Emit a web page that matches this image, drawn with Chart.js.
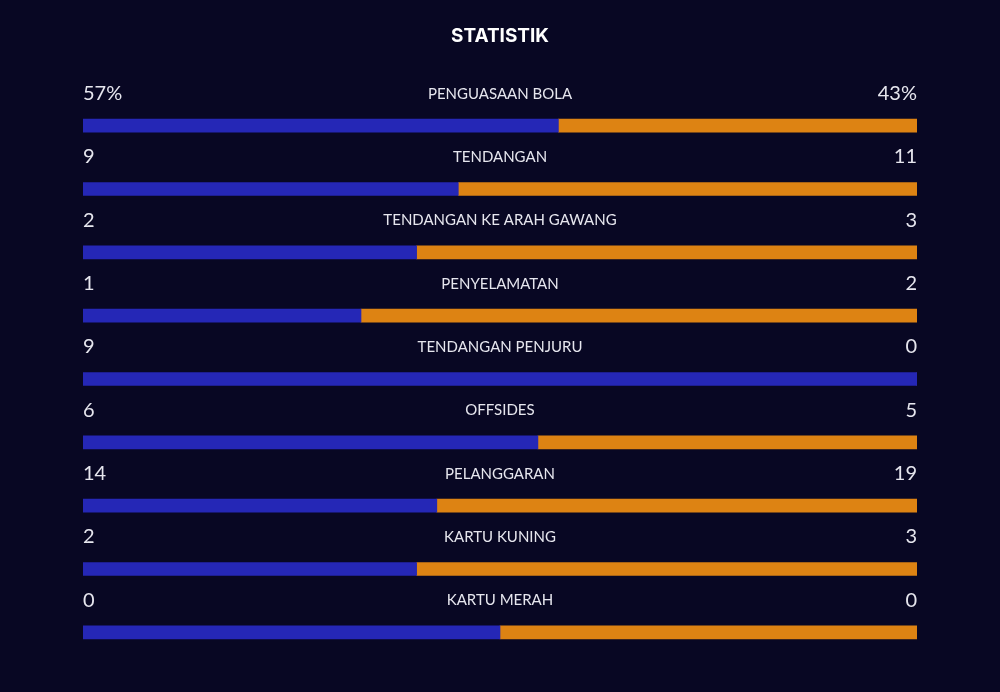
<!DOCTYPE html>
<html lang="id">
<head>
<meta charset="UTF-8">
<title>Statistik</title>
<script src="https://cdn.jsdelivr.net/npm/chart.js"></script>
<style>
  html, body { margin: 0; padding: 0; background: #080723; }
  #wrap { width: 1000px; height: 692px; }
</style>
</head>
<body>
<div id="wrap"><canvas id="statsChart"></canvas></div>
<script>
// match stats: home (blue) vs away (orange)
const categories = ['PENGUASAAN BOLA', 'TENDANGAN', 'TENDANGAN KE ARAH GAWANG', 'PENYELAMATAN',
  'TENDANGAN PENJURU', 'OFFSIDES', 'PELANGGARAN', 'KARTU KUNING', 'KARTU MERAH'];
const homeValues = [57, 9, 2, 1, 9, 6, 14, 2, 0];
const awayValues = [43, 11, 3, 2, 0, 5, 19, 3, 0];
const valueSuffix = ['%', '', '', '', '', '', '', '', ''];

const BLUE = '#2527b6';
const ORANGE = '#dd8313';

// share of the bar for each side (0 vs 0 splits evenly)
const homeShare = homeValues.map((h, i) => {
  const t = h + awayValues[i];
  return t === 0 ? 50 : h / t * 100;
});
const awayShare = homeShare.map(s => 100 - s);

const textPlugin = {
  id: 'statText',
  afterDatasetsDraw(chart) {
    const { ctx, chartArea, scales } = chart;
    ctx.save();
    ctx.fillStyle = '#ffffff';
    ctx.font = 'bold 19px Inter, "Open Sans", sans-serif';
    ctx.textAlign = 'center';
    ctx.textBaseline = 'middle';
    ctx.fillText('STATISTIK', chart.width / 2, 36);

    categories.forEach((cat, i) => {
      const y = scales.y.getPixelForValue(i) - 32;
      ctx.fillStyle = '#e6e6ee';
      ctx.font = '15px Lato, sans-serif';
      ctx.textAlign = 'center';
      ctx.fillText(cat, (chartArea.left + chartArea.right) / 2, y);
      ctx.font = '20px Lato, sans-serif';
      ctx.textAlign = 'left';
      ctx.fillText(homeValues[i] + valueSuffix[i], chartArea.left, y);
      ctx.textAlign = 'right';
      ctx.fillText(awayValues[i] + valueSuffix[i], chartArea.right, y);
    });
    ctx.restore();
  }
};

new Chart(document.getElementById('statsChart'), {
  type: 'bar',
  data: {
    labels: categories,
    datasets: [
      { label: 'Home', data: homeShare, backgroundColor: BLUE, barThickness: 13 },
      { label: 'Away', data: awayShare, backgroundColor: ORANGE, barThickness: 13 }
    ]
  },
  options: {
    indexAxis: 'y',
    responsive: true,
    maintainAspectRatio: false,
    animation: false,
    layout: { padding: { left: 83, right: 83, top: 94, bottom: 28 } },
    scales: {
      x: { stacked: true, min: 0, max: 100, display: false },
      y: { stacked: true, display: false }
    },
    plugins: {
      legend: { display: false },
      tooltip: { enabled: false }
    }
  },
  plugins: [textPlugin]
});
</script>
</body>
</html>
